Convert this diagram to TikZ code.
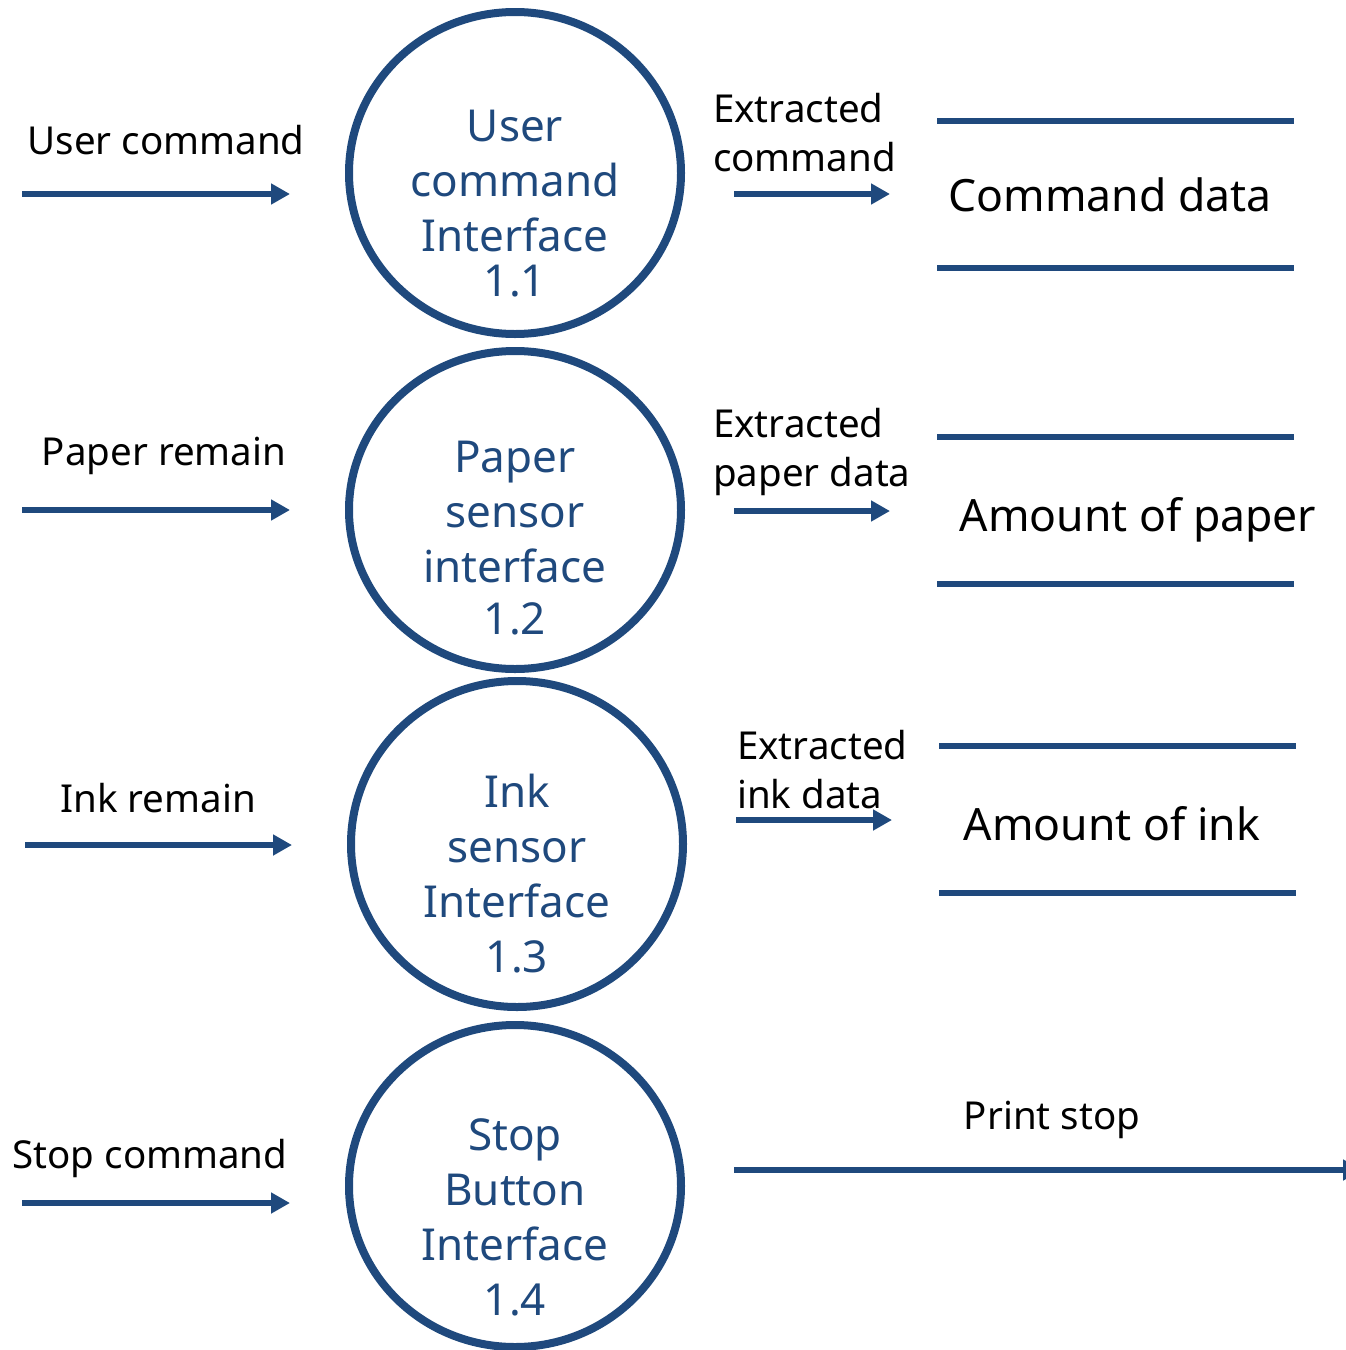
\documentclass[tikz,border=0pt]{standalone}
\usepackage{fontspec}
\setmainfont{Noto Sans}
\usetikzlibrary{arrows.meta,shapes.geometric}
\definecolor{dfdblue}{HTML}{1F497D}
\tikzset{proc/.style={ellipse, draw=dfdblue, line width=8pt, minimum width=332pt, minimum height=#1, inner sep=0pt},
proc/.default={322pt},
proctext/.style={text=dfdblue, align=center, font=\fontsize{44}{55}\selectfont},
lbl/.style={text=black, font=\fontsize{38.5}{49}\selectfont, inner sep=0pt},
storetext/.style={text=black, font=\fontsize{44.5}{50}\selectfont, inner sep=0pt},
flow/.style={draw=dfdblue, line width=6pt, -{Triangle[length=19pt,width=20pt]}},
storeline/.style={draw=dfdblue, line width=6pt}}

\begin{document}
\begin{tikzpicture}[x=1pt,y=-1pt]

    \useasboundingbox (0,0) rectangle (1346,1350);

    % processes
    \node[proc] (p1) at (515,173) {};
    \node[proc=318pt] (p2) at (515,510) {};
    \node[proc=326pt] (p3) at (517,844) {};
    \node[proc] (p4) at (515,1186) {};

    \node[proctext] (p1t) at (515,204) {User\\command\\Interface\\[-10pt]1.1};
    \node[proctext] (p2t) at (515,538) {Paper\\sensor\\interface\\[-3pt]1.2};
    \node[proctext] (p3t) at (517,874) {Ink\\sensor\\Interface\\1.3};
    \node[proctext] (p4t) at (515,1217) {Stop\\Button\\Interface\\1.4};

    % inputs
    \coordinate (in1) at (22,194);  \coordinate (to1) at (290,194);
    \coordinate (in2) at (22,510);  \coordinate (to2) at (290,510);
    \coordinate (in3) at (25,845);  \coordinate (to3) at (292,845);
    \coordinate (in4) at (22,1203); \coordinate (to4) at (290,1203);

    \node[lbl] (l1) at (166,140) {User command};
    \node[lbl] (l2) at (164,456) {Paper remain};
    \node[lbl] (l3) at (158,798) {Ink remain};
    \node[lbl] (l4) at (150,1158) {Stop command};

    \foreach \i in {1,2,3,4}
    \draw[flow] (in\i) -- (to\i);

    % outputs
    \coordinate (out1) at (734,194); \coordinate (st1) at (890,194);
    \coordinate (out2) at (734,511); \coordinate (st2) at (890,511);
    \coordinate (out3) at (736,820); \coordinate (st3) at (892,820);
    \coordinate (out4) at (734,1170); \coordinate (st4) at (1362,1170);

    \node[lbl, anchor=west, align=left] (o1) at (713,133) {Extracted\\command};
    \node[lbl, anchor=west, align=left] (o2) at (713,452) {Extracted\\paper data};
    \node[lbl, anchor=west, align=left] (o3) at (737,770) {Extracted\\ink data};
    \node[lbl] (o4) at (1052,1120) {Print stop};

    \foreach \i in {1,2,3,4}
    \draw[flow] (out\i) -- (st\i);

    % data stores
    \coordinate (s1a) at (937,121); \coordinate (s1b) at (1294,121);
    \coordinate (s1c) at (937,268); \coordinate (s1d) at (1294,268);
    \coordinate (s2a) at (937,437); \coordinate (s2b) at (1294,437);
    \coordinate (s2c) at (937,584); \coordinate (s2d) at (1294,584);
    \coordinate (s3a) at (939,746); \coordinate (s3b) at (1296,746);
    \coordinate (s3c) at (939,893); \coordinate (s3d) at (1296,893);

    \foreach \i in {1,2,3}
    {
    \draw[storeline] (s\i a) -- (s\i b);
    \draw[storeline] (s\i c) -- (s\i d);
    }

    \node[storetext] (d1) at (1110,195) {Command data};
    \node[storetext] (d2) at (1138,520) {Amount of paper};
    \node[storetext] (d3) at (1112,824) {Amount of ink};

  \end{tikzpicture}
\end{document}
